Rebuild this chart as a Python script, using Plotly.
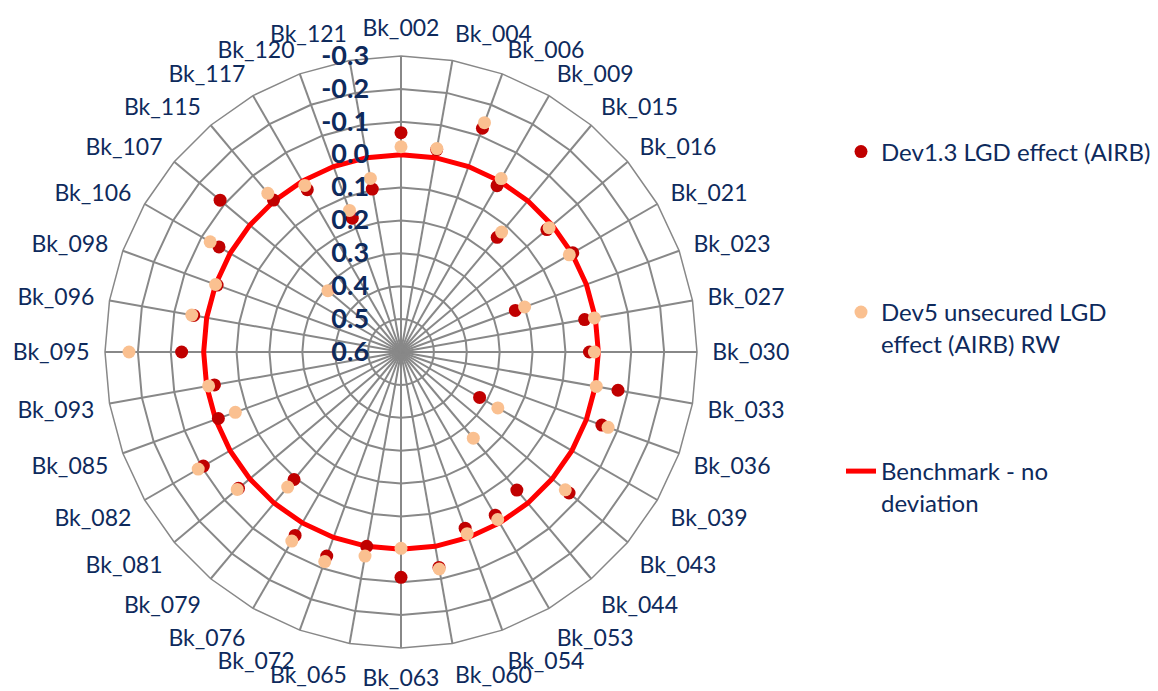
import plotly.graph_objects as go

categories = ["Bk_002", "Bk_004", "Bk_006", "Bk_009", "Bk_015", "Bk_016", "Bk_021", "Bk_023",
              "Bk_027", "Bk_030", "Bk_033", "Bk_036", "Bk_039", "Bk_043", "Bk_044", "Bk_053",
              "Bk_054", "Bk_060", "Bk_063", "Bk_065", "Bk_072", "Bk_076", "Bk_079", "Bk_081",
              "Bk_082", "Bk_085", "Bk_093", "Bk_095", "Bk_096", "Bk_098", "Bk_106", "Bk_107",
              "Bk_115", "Bk_117", "Bk_120", "Bk_121"]

dev13_lgd = [-0.067, -0.025, -0.124, 0.016, 0.145, 0.021, -0.003, 0.23, 0.033, 0.027, -0.07, -0.05,
             0.324, -0.067, 0.052, 0.027, 0.03, -0.065, -0.085, 0.0, -0.06, -0.044, 0.094, -0.045,
             -0.094, 0.009, 0.024, -0.067, -0.04, 0.005, -0.039, -0.118, -0.003, 0.03, 0.167, 0.097]

dev5_unsecured = [-0.024, -0.028, -0.142, -0.009, 0.124, 0.012, 0.009, 0.2, 0.003, 0.012, -0.003, -0.07,
                  0.26, -0.052, 0.258, 0.012, 0.012, -0.07, 0.003, -0.03, -0.078, -0.064, 0.064, -0.05,
                  -0.112, 0.064, 0.006, -0.227, -0.046, 0.0, -0.07, 0.31, -0.03, 0.015, 0.142, 0.064]

benchmark = [0.0] * len(categories)

radial_ticks = [-0.3, -0.2, -0.1, 0.0, 0.1, 0.2, 0.3, 0.4, 0.5, 0.6]

# The radial axis is reversed (0.6 at the centre, -0.3 at the rim):
# plot the distance from the centre value R_CENTER - v on a normal axis.
R_CENTER = 0.6
R_RIM = -0.3


def to_r(values):
    return [R_CENTER - v for v in values]


NAVY = "#0E2A5C"
FONT = "Lato"
W, H = 1158, 691
OFF = 8  # page body margin


def fx(px):
    return (px - OFF) / W


def fy(py):
    return 1 - (py - OFF) / H


fig = go.Figure()

fig.add_trace(go.Scatterpolar(
    r=to_r(benchmark + benchmark[:1]), theta=categories + categories[:1],
    mode="lines", name="Benchmark - no<br>deviation",
    line=dict(color="#FF0000", width=5),
    legend="legend3",
))
fig.add_trace(go.Scatterpolar(
    r=to_r(dev13_lgd), theta=categories, mode="markers",
    name="Dev1.3 LGD effect (AIRB)",
    marker=dict(color="#C00000", size=13),
    legend="legend",
))
fig.add_trace(go.Scatterpolar(
    r=to_r(dev5_unsecured), theta=categories, mode="markers",
    name="Dev5 unsecured LGD<br>effect (AIRB) RW",
    marker=dict(color="#FAC090", size=13),
    legend="legend2",
))

legend_common = dict(
    xanchor="left", yanchor="middle",
    font=dict(family=FONT, size=24, color=NAVY),
    bgcolor="rgba(0,0,0,0)", valign="top", itemwidth=30,
)

fig.update_layout(
    width=W, height=H,
    margin=dict(l=0, r=0, t=0, b=0),
    paper_bgcolor="white",
    font=dict(family=FONT, color=NAVY, size=23),
    polar=dict(
        domain=dict(x=[fx(105), fx(697)], y=[fy(648), fy(56)]),
        bgcolor="white",
        gridshape="linear",
        angularaxis=dict(
            direction="clockwise", rotation=90,
            categoryorder="array", categoryarray=categories,
            showgrid=True, gridcolor="#888888", gridwidth=1.5,
            showline=True, linecolor="#888888", linewidth=1.5,
            ticks="outside", ticklen=10, tickcolor="rgba(0,0,0,0)",
            tickfont=dict(family=FONT, size=23, color=NAVY),
        ),
        radialaxis=dict(
            range=[0, R_CENTER - R_RIM],
            tickvals=to_r(radial_ticks), ticktext=[f"{v:.1f}" for v in radial_ticks],
            angle=90, side="counterclockwise", tickangle=90,
            showgrid=True, gridcolor="#888888", gridwidth=1.5,
            showline=False, ticks="outside", ticklen=22, tickcolor="rgba(0,0,0,0)",
            tickfont=dict(family=FONT, size=27, color=NAVY, weight="bold"),
        ),
    ),
    legend=dict(x=fx(841), y=fy(152), **legend_common),
    legend2=dict(x=fx(841), y=fy(328), **legend_common),
    legend3=dict(x=fx(841), y=fy(487), **legend_common),
    showlegend=True,
)

fig.write_html("out.html")
